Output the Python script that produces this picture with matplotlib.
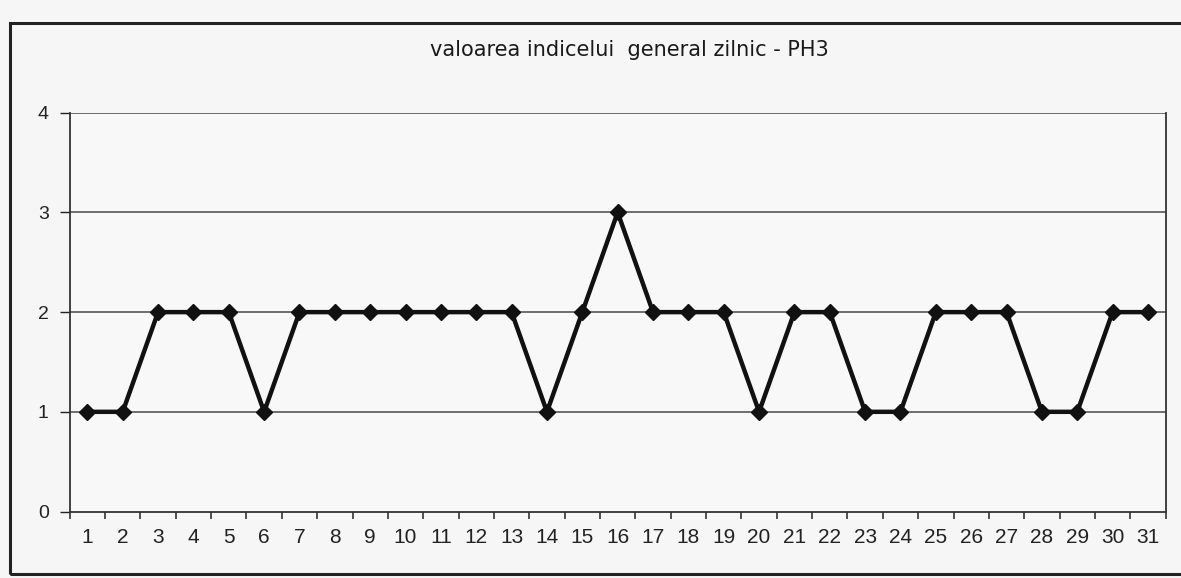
import matplotlib
matplotlib.use("Agg")
import matplotlib.pyplot as plt
from matplotlib.patches import Rectangle

days = list(range(1, 32))
values = [1, 1, 2, 2, 2, 1, 2, 2, 2, 2, 2, 2, 2, 1, 2, 3,
          2, 2, 2, 1, 2, 2, 1, 1, 2, 2, 2, 1, 1, 2, 2]
y_ticks = [0, 1, 2, 3, 4]
title = "valoarea indicelui  general zilnic - PH3"

plt.rcParams["font.family"] = ["Liberation Sans", "DejaVu Sans"]

fig = plt.figure(figsize=(11.81, 5.78), dpi=100, facecolor="#f6f6f6")
ax = fig.add_axes([0.059, 0.115, 0.928, 0.69])
ax.set_facecolor("#f8f8f8")

# chenar exterior
fig.patches.append(Rectangle((10 / 1181, 1 - 574 / 578), 1.0, (574 - 23) / 578,
                             transform=fig.transFigure, fill=False,
                             edgecolor="#222222", linewidth=2.2))

ax.plot(days, values, color="#111111", linewidth=3.2, marker="D",
        markersize=8.5, markerfacecolor="#111111", markeredgecolor="#111111",
        zorder=3)

ax.set_xlim(0.5, 31.5)
ax.set_ylim(0, 4)
ax.set_yticks(y_ticks)
ax.set_xticks(days)
ax.set_xticks([d + 0.5 for d in range(0, 32)], minor=True)
ax.tick_params(axis="x", which="major", length=0, labelsize=15, pad=12,
               colors="#222222")
ax.tick_params(axis="x", which="minor", length=5, width=1.2, color="#333333")
ax.tick_params(axis="y", length=7, width=1, labelsize=14, pad=8,
               colors="#222222")

for y in y_ticks[1:]:
    ax.axhline(y, color="#555555", linewidth=1.2, zorder=1)

for side in ["left", "bottom", "right"]:
    ax.spines[side].set_color("#333333")
    ax.spines[side].set_linewidth(1.3)
ax.spines["top"].set_visible(False)

fig.text(0.533, 1 - 50 / 578, title, ha="center", va="center",
         fontsize=15, color="#1a1a1a", family="DejaVu Sans")

fig.savefig("out.png", dpi=100, facecolor=fig.get_facecolor())
